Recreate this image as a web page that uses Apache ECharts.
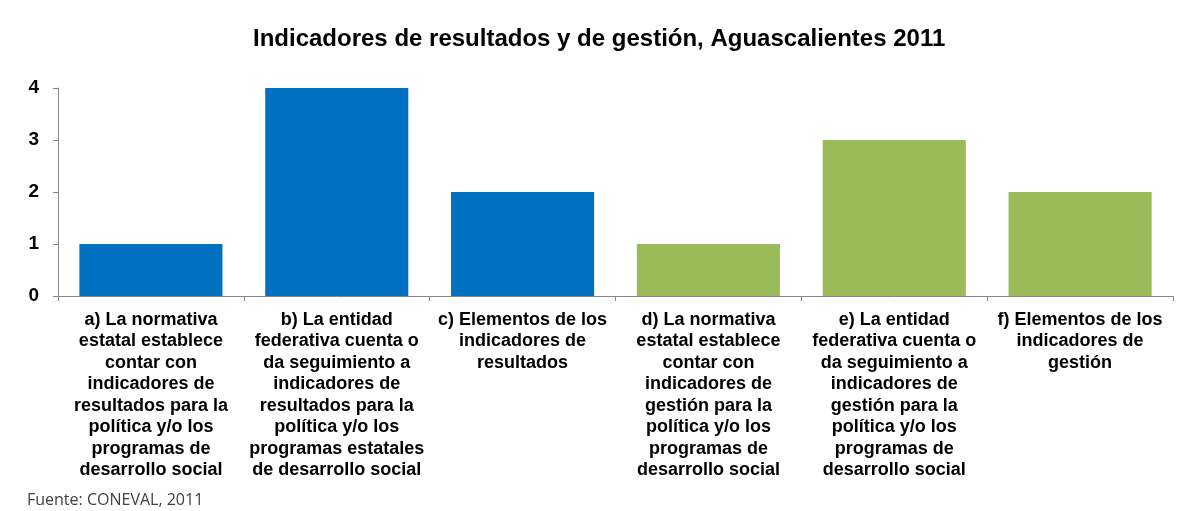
<!DOCTYPE html>
<html>
<head>
<meta charset="utf-8">
<script src="https://cdn.jsdelivr.net/npm/echarts@6/dist/echarts.min.js"></script>
<style>
html,body{margin:0;padding:0;background:#fff;}
#c{width:1182px;height:511px;}
</style>
</head>
<body>
<div id="c"></div>
<script>
const categories = [
  "a) La normativa\nestatal establece\ncontar con\nindicadores de\nresultados para la\npolítica y/o los\nprogramas de\ndesarrollo social",
  "b) La entidad\nfederativa cuenta o\nda seguimiento a\nindicadores de\nresultados para la\npolítica y/o los\nprogramas estatales\nde desarrollo social",
  "c) Elementos de los\nindicadores de\nresultados",
  "d) La normativa\nestatal establece\ncontar con\nindicadores de\ngestión para la\npolítica y/o los\nprogramas de\ndesarrollo social",
  "e) La entidad\nfederativa cuenta o\nda seguimiento a\nindicadores de\ngestión para la\npolítica y/o los\nprogramas de\ndesarrollo social",
  "f) Elementos de los\nindicadores de\ngestión"
];
const values = [1, 4, 2, 1, 3, 2];
const groups = ["resultados", "resultados", "resultados", "gestión", "gestión", "gestión"];
const yTicks = [0, 1, 2, 3, 4];
const titleText = "Indicadores de resultados y de gestión, Aguascalientes 2011";
const sourceText = "Fuente: CONEVAL, 2011";

const groupColors = { "resultados": "#0070C0", "gestión": "#9BBB59" };
const FONT = "'Liberation Sans', Arial, sans-serif";

const chart = echarts.init(document.getElementById('c'), null, {renderer: 'canvas'});
chart.setOption({
  animation: false,
  backgroundColor: '#fff',
  title: [{
    text: titleText,
    left: 253,
    top: 27,
    padding: 0,
    textStyle: {fontFamily: FONT, fontSize: 24, fontWeight: 'bold', color: '#000'}
  }, {
    text: sourceText,
    left: 27,
    top: 492,
    padding: 0,
    textStyle: {fontFamily: "'Open Sans', sans-serif", fontSize: 16, fontWeight: 'normal', color: '#404040'}
  }],
  grid: {left: 58, right: 9, top: 88, bottom: 215, containLabel: false},
  xAxis: {
    type: 'category',
    data: categories,
    axisLine: {show: true, lineStyle: {color: '#868686', width: 1}},
    axisTick: {show: true, length: 5, lineStyle: {color: '#868686'}},
    axisLabel: {
      interval: 0,
      margin: 13,
      color: '#000',
      fontFamily: FONT,
      fontSize: 18,
      fontWeight: 'bold',
      lineHeight: 21.5,
      align: 'center'
    }
  },
  yAxis: {
    type: 'value',
    min: yTicks[0],
    max: yTicks[yTicks.length - 1],
    interval: 1,
    splitLine: {show: false},
    axisLine: {show: true, lineStyle: {color: '#868686', width: 1}},
    axisTick: {show: true, length: 5, lineStyle: {color: '#868686'}},
    axisLabel: {
      margin: 19,
      color: '#000',
      fontFamily: FONT,
      fontSize: 19,
      fontWeight: 'bold'
    }
  },
  series: [{
    type: 'bar',
    data: values.map((v, i) => ({value: v, itemStyle: {color: groupColors[groups[i]]}})),
    barCategoryGap: '23%'
  }]
});
</script>
</body>
</html>
